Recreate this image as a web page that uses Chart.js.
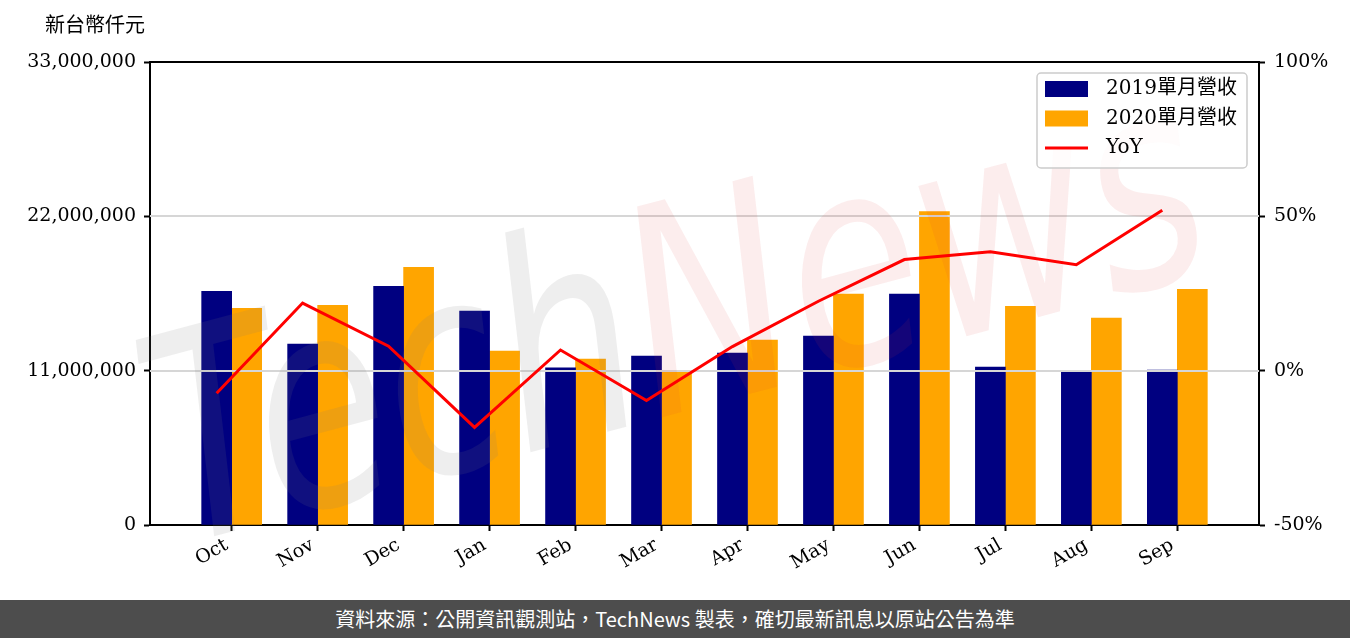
<!DOCTYPE html>
<html>
<head>
<meta charset="utf-8">
<script src="https://cdn.jsdelivr.net/npm/chart.js@4.4.1/dist/chart.umd.min.js"></script>
<style>
  body { margin: 0; background: #fff; }
  #wrap { width: 1350px; height: 600px; position: relative; }
  #foot {
    width: 1350px; height: 38px; background: #4d4d4d; color: #fff;
    font: 20px 'Noto Sans CJK TC', 'Noto Sans', sans-serif;
    text-align: center; line-height: 38px;
  }
</style>
</head>
<body>
<div id="wrap"><canvas id="revChart" width="1350" height="600"></canvas></div>
<div id="foot">資料來源：公開資訊觀測站，TechNews 製表，確切最新訊息以原站公告為準</div>
<script>
var months = ['Oct', 'Nov', 'Dec', 'Jan', 'Feb', 'Mar', 'Apr', 'May', 'Jun', 'Jul', 'Aug', 'Sep'];
var rev2019 = [16660000, 12900000, 17010000, 15240000, 11210000, 12040000, 12260000, 13460000, 16450000, 11260000, 10980000, 11050000];
var rev2020 = [15450000, 15660000, 18360000, 12400000, 11830000, 10910000, 13180000, 16450000, 22330000, 15590000, 14740000, 16800000];
var yoy = [-7.3, 21.9, 7.9, -18.4, 6.7, -9.7, 7.8, 22.5, 36.0, 38.5, 34.3, 52.0];
var leftTicks = [0, 11000000, 22000000, 33000000];
var rightTicks = [-50, 0, 50, 100];

var FONT = "'DejaVu Serif', 'Noto Sans CJK TC', serif";
var HALF_BAR = 0.175;   // line points sit on the centre of the 2019 bar

Chart.defaults.font.family = FONT;
Chart.defaults.font.size = 19;
Chart.defaults.color = '#000';

// grid lines and watermark go above the bars but under the YoY line
var overlay = {
    id: 'overlay',
    afterDatasetDraw: function (chart, args) {
        if (args.index !== 0) return;
        var ctx = chart.ctx, a = chart.chartArea, y = chart.scales.y;
        ctx.save();
        ctx.strokeStyle = '#d6d6d6';
        ctx.lineWidth = 2;
        leftTicks.forEach(function (v) {
            if (v <= y.min || v >= y.max) return;
            var py = Math.round(y.getPixelForValue(v));
            ctx.beginPath();
            ctx.moveTo(a.left, py);
            ctx.lineTo(a.right, py);
            ctx.stroke();
        });

        // TechNews watermark
        ctx.translate(680, 335);
        ctx.rotate(-0.26);
        ctx.font = "italic 240px 'DejaVu Sans'";
        var w1 = ctx.measureText('Tech').width, w2 = ctx.measureText('News').width;
        var s = 1080 / (w1 + w2);
        ctx.scale(s, 1.2);
        ctx.textBaseline = 'middle';
        ctx.fillStyle = 'rgba(120,120,120,0.13)';
        ctx.fillText('Tech', -(w1 + w2) / 2, 0);
        ctx.fillStyle = 'rgba(220,50,50,0.09)';
        ctx.fillText('News', -(w1 + w2) / 2 + w1, 0);
        ctx.restore();
    },
    afterDraw: function (chart) {
        var ctx = chart.ctx, a = chart.chartArea;
        ctx.save();
        // top spine
        ctx.strokeStyle = '#000';
        ctx.lineWidth = 2;
        ctx.beginPath();
        ctx.moveTo(a.left - 1, a.top);
        ctx.lineTo(a.right + 1, a.top);
        ctx.stroke();

        // unit label
        ctx.fillStyle = '#000';
        ctx.font = '20px ' + FONT;
        ctx.textBaseline = 'middle';
        ctx.fillText('新台幣仟元', 45, 27);

        // legend
        var bx = a.right - 222, by = a.top + 11, bw = 210, bh = 95;
        ctx.fillStyle = 'rgba(255,255,255,0.85)';
        ctx.strokeStyle = '#cccccc';
        ctx.lineWidth = 1.5;
        ctx.beginPath();
        ctx.roundRect(bx, by, bw, bh, 4);
        ctx.fill();
        ctx.stroke();
        ctx.font = '20px ' + FONT;
        chart.data.datasets.forEach(function (ds, i) {
            var cy = by + 16 + i * 29.5;
            if (ds.type === 'line') {
                ctx.strokeStyle = ds.borderColor;
                ctx.lineWidth = 3;
                ctx.beginPath();
                ctx.moveTo(bx + 8, cy);
                ctx.lineTo(bx + 51, cy);
                ctx.stroke();
            } else {
                ctx.fillStyle = ds.backgroundColor;
                ctx.fillRect(bx + 8, cy - 8, 43, 16);
            }
            ctx.fillStyle = '#000';
            ctx.fillText(ds.label, bx + 69, cy);
        });
        ctx.restore();
    }
};

new Chart(document.getElementById('revChart'), {
    type: 'bar',
    data: {
        datasets: [{
                type: 'bar',
                label: '2019單月營收',
                data: months.map(function (m, i) { return { x: i, y: rev2019[i] }; }),
                backgroundColor: '#000080',
                barThickness: 30,
                order: 1,
                yAxisID: 'y'
            },
            {
                type: 'bar',
                label: '2020單月營收',
                data: months.map(function (m, i) { return { x: i, y: rev2020[i] }; }),
                backgroundColor: '#ffa500',
                barThickness: 30,
                order: 1,
                yAxisID: 'y'
            },
            {
                type: 'line',
                label: 'YoY',
                data: months.map(function (m, i) { return { x: i - HALF_BAR, y: yoy[i] }; }),
                borderColor: '#ff0000',
                borderWidth: 3,
                pointRadius: 0,
                tension: 0,
                order: 0,
                yAxisID: 'y1'
            }
        ]
    },
    options: {
        responsive: false,
        animation: false,
        layout: { padding: { top: 62, left: 0, right: 0, bottom: 0 } },
        plugins: {
            legend: { display: false },
            tooltip: { enabled: false },
            title: { display: false }
        },
        scales: {
            x: {
                type: 'linear',
                offset: false,
                min: -0.95,
                max: 11.95,
                afterBuildTicks: function (s) {
                    s.ticks = months.map(function (m, i) { return { value: i }; });
                },
                afterFit: function (s) { s.height = 75; },
                ticks: {
                    autoSkip: false,
                    minRotation: 30,
                    maxRotation: 30,
                    padding: 3,
                    labelOffset: -5,
                    color: '#000',
                    callback: function (v) { return months[v]; }
                },
                grid: { drawOnChartArea: false, offset: false, tickColor: '#000', tickLength: 6, tickWidth: 2 },
                border: { color: '#000', width: 2 }
            },
            y: {
                position: 'left',
                min: 0,
                max: 33000000,
                afterBuildTicks: function (s) {
                    s.ticks = leftTicks.map(function (v) { return { value: v }; });
                },
                afterFit: function (s) { s.width = 150; },
                ticks: {
                    padding: 8,
                    color: '#000',
                    callback: function (v) { return v.toLocaleString('en-US'); }
                },
                grid: { drawOnChartArea: false, tickColor: '#000', tickLength: 6, tickWidth: 2 },
                border: { color: '#000', width: 2 }
            },
            y1: {
                position: 'right',
                min: -50,
                max: 100,
                afterBuildTicks: function (s) {
                    s.ticks = rightTicks.map(function (v) { return { value: v }; });
                },
                afterFit: function (s) { s.width = 91; },
                ticks: {
                    padding: 9,
                    color: '#000',
                    callback: function (v) { return v + '%'; }
                },
                grid: { drawOnChartArea: false, tickColor: '#000', tickLength: 6, tickWidth: 2 },
                border: { color: '#000', width: 2 }
            }
        }
    },
    plugins: [overlay]
});
</script>
</body>
</html>
